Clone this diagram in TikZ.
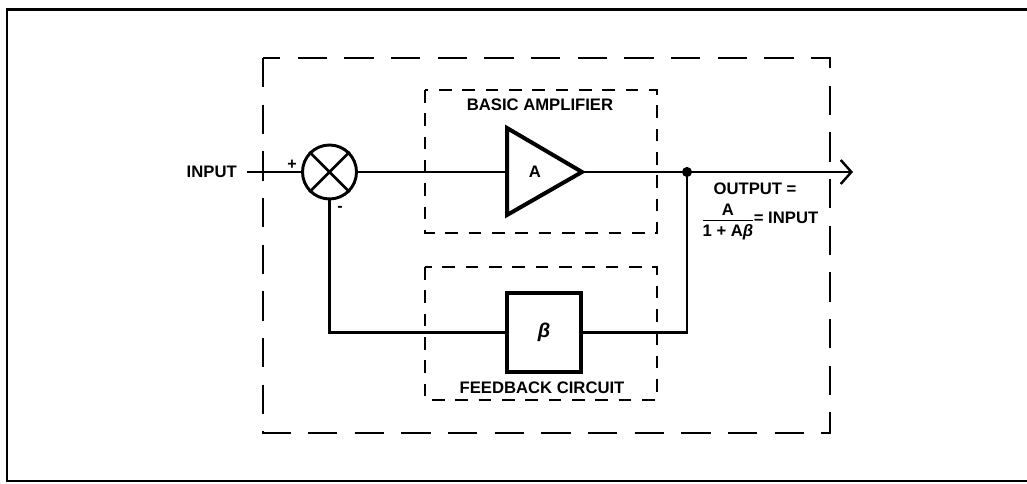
\documentclass[tikz,border=0pt]{standalone}
\usepackage{fontspec}
\setmainfont{Liberation Sans}
\usetikzlibrary{arrows.meta}
\begin{document}
\begin{tikzpicture}[x=0.75pt,y=-0.75pt,
  lbl/.style={inner sep=0pt,font=\fontsize{12.5}{14}\selectfont\bfseries},
  wire/.style={line width=1.8pt},
  innerbox/.style={line width=1.8pt,dash pattern=on 9.5pt off 8pt},
  outerbox/.style={line width=1.8pt,dash pattern=on 22pt off 13pt},
  frame/.style={line width=1.8pt}]
\useasboundingbox (0,0) rectangle (1027,484);
% outer frame
\draw[frame] (1027,9.5) -- (7,9.5) -- (7,481) -- (1027,481);
% dashed boxes
\draw[outerbox] (263,58) rectangle (830,433);
\draw[innerbox] (425,90) rectangle (657,233);
\draw[innerbox] (425,267) rectangle (657,400);
\node[lbl] (ampl) at (540,105) {BASIC AMPLIFIER};
\node[lbl] (fbl) at (542,388) {FEEDBACK CIRCUIT};
% summing junction
\node[draw,circle,line width=2.2pt,minimum size=40.5pt,inner sep=0pt] (sum) at (329.5,172) {};
\draw[line width=1.9pt] (sum.north east) -- (sum.south west) (sum.north west) -- (sum.south east);
\node[inner sep=0pt,font=\fontsize{12}{14}\selectfont\bfseries] (plus) at (292,165) {+};
\node[inner sep=0pt,font=\fontsize{12}{14}\selectfont\bfseries] (minus) at (340,209) {-};
% input
\node[lbl,anchor=east] (in) at (237,172) {INPUT};
\coordinate (instart) at (247,172);
\draw[wire] (instart) -- (sum.west);
% amplifier triangle
\coordinate (ampin) at (507,172);
\coordinate (ampout) at (582,172);
\draw[line width=3pt,line join=miter] (507,128) -- (ampout) -- (507,215) -- cycle;
\node[lbl] (A) at (535,172) {A};
\draw[wire] (sum.east) -- (ampin);
% output
\coordinate (junc) at (687,172);
\coordinate (outend) at (853,172);
\draw[wire,-{Straight Barb[length=8pt,width=18pt,line width=1.8pt]}] (ampout) -- (outend);
\fill (junc) circle (3.8pt);
% beta block
\node[draw,line width=3.2pt,minimum width=56pt,minimum height=59pt,inner sep=0pt,
      font=\fontsize{15}{17}\selectfont\bfseries\itshape] (beta) at (544,332.5) {β};
\draw[wire] (sum.south) |- (beta.west);
\draw[wire] (beta.east) -| (junc);
% output formula
\node[lbl] (outl) at (755,189) {OUTPUT =};
\node[lbl,inner sep=0pt] (frac) at (728,222) {\begin{tabular}{@{}c@{}}A\\[-1pt]\hline\rule{0pt}{12pt}1 + A{\itshape β}\end{tabular}};
\node[lbl,anchor=west] (eqin) at ([xshift=0pt,yshift=3pt]frac.east) {= INPUT};
\end{tikzpicture}
\end{document}
